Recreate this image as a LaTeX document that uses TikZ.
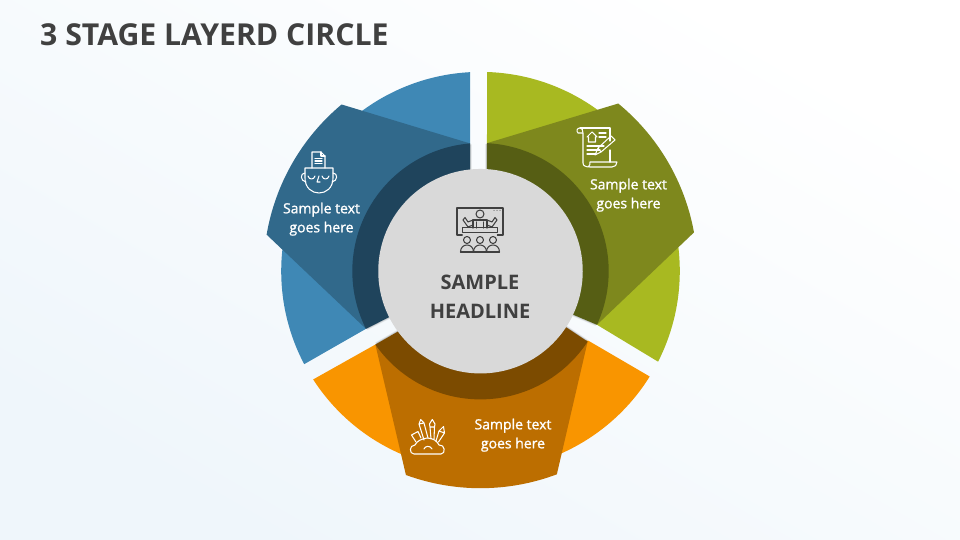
\documentclass[tikz,border=0pt]{standalone}
\usepackage{fontspec}
\setmainfont{Open Sans}
\newfontfamily\samplefont[FakeBold=1.2]{Open Sans}
\usetikzlibrary{positioning}
\definecolor{bluelight}{HTML}{3F88B5}
\definecolor{bluemid}{HTML}{31698B}
\definecolor{bluering}{HTML}{1F445C}
\definecolor{greenlight}{HTML}{A8B921}
\definecolor{greenmid}{HTML}{7E881D}
\definecolor{greenring}{HTML}{565E14}
\definecolor{orangelight}{HTML}{F99500}
\definecolor{orangemid}{HTML}{BC6E00}
\definecolor{orangering}{HTML}{7C4B00}
\definecolor{centergray}{HTML}{D9D9D9}
\definecolor{textgray}{HTML}{404040}
\definecolor{backlow}{HTML}{EFF6FB}
\newcommand{\outerr}{199.3}
\newcommand{\midr}{217}
\newcommand{\ringr}{128.2}
\tikzset{px/.style={shift={(-480.5,271.2)},y=-1pt},
	icon/.style={draw=#1,line width=1.05pt,line join=round,line cap=round},
	edgeshadow/.style={draw=black,opacity=#1,line cap=butt},
	samplelabel/.style={text=white,align=center,font=\samplefont\fontsize{14}{19}\selectfont}}

\begin{document}
\begin{tikzpicture}[x=1pt,y=1pt]
	\useasboundingbox (-480.5,-268.8) rectangle (479.5,271.2);
	\shade[shading=axis,top color=white,bottom color=backlow,shading angle=-30] (-480.5,-268.8) rectangle (479.5,271.2);
	%%
	\fill[bluelight] (93:\outerr) arc[start angle=93,end angle=207.8,radius=\outerr] -- (206.7:\ringr) -- (94.67:\ringr) -- cycle;
	\fill[greenlight] (88.1:\outerr) arc[start angle=88.1,end angle=-27,radius=\outerr] -- (-24.7:\ringr) -- (87.1:\ringr) -- cycle;
	\fill[orangelight] (212.9:\outerr) arc[start angle=212.9,end angle=328.1,radius=\outerr] -- (327.2:\ringr) -- (214.9:\ringr) -- cycle;
	%%
	\fill[bluemid] (94.67:\ringr) -- (129.8:\midr) arc[start angle=129.8,end angle=170.3,radius=\midr] -- (206.7:\ringr) -- cycle;
	\fill[greenmid] (87.1:\ringr) -- (50.6:\midr) arc[start angle=50.6,end angle=10.3,radius=\midr] -- (-24.7:\ringr) -- cycle;
	\fill[orangemid] (214.9:\ringr) -- (249.9:\midr) arc[start angle=249.9,end angle=290.6,radius=\midr] -- (326.7:\ringr) -- cycle;
	%%
	\foreach \a/\b in {94.67/96,206.7/206.7,87.1/86.3,-24.7/-25.2,214.9/216.3,326.7/326.8} {
		\foreach \w/\o in {3.5/0.06,2.2/0.08,1/0.1} {
			\draw[edgeshadow=\o,line width=\w pt] (\a:\ringr-1) -- (\b:100);
		}
	}
	%%
	\fill[bluering] (94.67:\ringr) arc[start angle=94.67,end angle=206.7,radius=\ringr] -- (206.7:100) -- (96:100) -- cycle;
	\fill[greenring] (87.1:\ringr) arc[start angle=87.1,end angle=-24.7,radius=\ringr] -- (-25.2:100) -- (86.3:100) -- cycle;
	\fill[orangering] (214.9:\ringr) arc[start angle=214.9,end angle=326.7,radius=\ringr] -- (326.8:100) -- (216.3:100) -- cycle;
	%%
	\node[circle,fill=centergray,minimum size=204.5pt,inner sep=0] (hub) at (0,0) {};
	%%
	\begin{scope}[px]
		\node[anchor=west,inner sep=0,text=textgray,font=\fontsize{30.2}{34}\bfseries\selectfont] (title) at (40,34.5) {3 STAGE LAYERD CIRCLE};
		\node[text=textgray,align=center,font=\fontsize{20}{29}\bfseries\selectfont] (headline) at (480,297) {SAMPLE\\HEADLINE};
		\node[samplelabel] (bluetext) at (321.5,219.2) {Sample text\\goes here};
		\node[samplelabel] (greentext) at (628.5,195.2) {Sample text\\goes here};
		\node[samplelabel] (orangetext) at (513,435.2) {Sample text\\goes here};
		%% presenter
		\draw[icon=textgray] (457,235) -- (457,208) -- (503,208) -- (503,235) -- (497.3,235) (457,235) -- (462.3,235);
		\draw[icon=textgray] (462.3,227.7) rectangle (497.3,232.3);
		\draw[icon=textgray] (480,214) circle[radius=4];
		\draw[icon=textgray] (473,228) -- (473,220) -- (487,220) -- (487,228);
		\draw[icon=textgray] (476.5,222) -- (476.5,228) (483.5,222) -- (483.5,228);
		\draw[icon=textgray] (473,220) -- (468,222) -- (465,217.5) -- (463,220) -- (468,227) -- (473,225);
		\draw[icon=textgray] (487,220) -- (492,222) -- (495,217.5) -- (497,220) -- (492,227) -- (487,225);
		\foreach \cx in {494,497,500} {
			\fill[textgray] (\cx,210.5) circle[radius=0.5];
		}
		\foreach \cx in {467,480,493} {
			\draw[icon=textgray] (\cx,240) circle[radius=3.5];
			\draw[icon=textgray] (\cx-6.5,252) .. controls (\cx-6.5,247) and (\cx-3,245) .. (\cx,245) .. controls (\cx+3,245) and (\cx+6.5,247) .. (\cx+6.5,252);
		}
		\draw[icon=textgray] (460.5,252) -- (499.5,252);
		%% head
		\draw[icon=white] (312,168) -- (312,152) -- (321,152) -- (325,156) -- (325,168);
		\draw[icon=white] (321,152) -- (321,156) -- (325,156);
		\draw[icon=white] (315,158.5) -- (322,158.5) (315,161) -- (322,161) (315,163.5) -- (322,163.5);
		\draw[icon=white] (305,168) -- (333,168) -- (333,178) .. controls (333,188) and (326,193) .. (319,193) .. controls (312,193) and (305,188) .. (305,178) -- cycle;
		\draw[icon=white] (305,173) .. controls (300,173) and (300,181) .. (306,182);
		\draw[icon=white] (333,173) .. controls (338,173) and (338,181) .. (332,182);
		\draw[icon=white] (308,176) .. controls (309,180) and (314,180) .. (315,176);
		\draw[icon=white] (322,176) .. controls (323,180) and (328,180) .. (329,176);
		\draw[icon=white] (319,176) -- (317,182) -- (320,182);
		%% scroll
		\draw[icon=white] (580,128) -- (610,128) -- (610,141) (610,150) -- (610,162);
		\draw[icon=white] (583,133) -- (578,133) .. controls (576,131) and (577,128) .. (580,128) .. controls (582,128) and (583,130) .. (583,133) -- (583,163) .. controls (583,166) and (586,167) .. (590,167) -- (612,167) .. controls (615,167) and (617,165) .. (617,162) -- (590,162) .. controls (590,164) and (590,166) .. (588,167);
		\draw[icon=white] (587,137) -- (592,132) -- (597,137) (588.5,137) -- (588.5,142) -- (595.5,142) -- (595.5,137);
		\draw[icon=white] (599,133) -- (606,133) (599,137) -- (606,137) (587,146) -- (604,146) (587,150) -- (600,150) (587,154) -- (596,154);
		\draw[icon=white] (595,155) -- (598,148) -- (611,136) -- (615,140) -- (601,152) -- cycle (598,148) -- (601,152);
		%% tools
		\draw[icon=white] (414,454) -- (441,454) .. controls (446,454) and (445,444) .. (439,445) .. controls (437,441) and (433,438) .. (427,438) .. controls (421,439) and (417,441) .. (415,445) .. controls (409,445) and (409,454) .. (414,454);
		\draw[icon=white] (424,449) .. controls (425,446) and (430,445) .. (432,449);
		\draw[icon=white] (416,442) -- (411.5,435) -- (418,431.5) -- (421,438);
		\draw[icon=white] (424,440) -- (419,424) -- (420.7,419.5) -- (424,423) -- (428,438) (419,424) -- (424,423);
		\draw[icon=white] (430,427) -- (429.5,424) -- (432.3,419.5) -- (435,424) -- (434.5,427) -- cycle (430,427) -- (431,439) (434.5,427) -- (434,439);
		\draw[icon=white] (439,431) -- (443.5,426.5) -- (444.5,433) -- cycle (439,431) -- (436,441) (444.5,433) -- (438.5,442);
	\end{scope}
\end{tikzpicture}
\end{document}
